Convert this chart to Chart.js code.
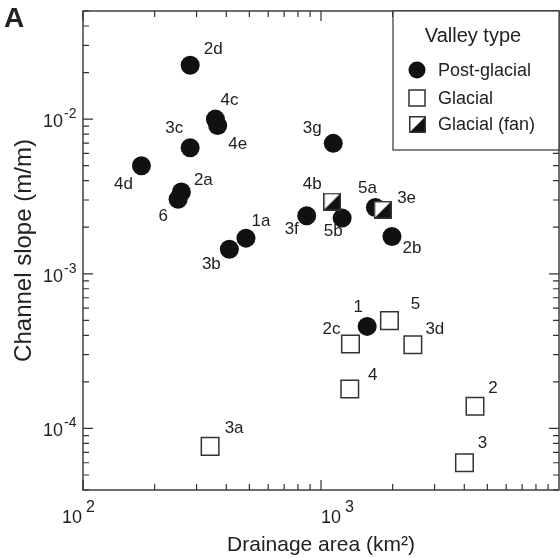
<!DOCTYPE html>
<html>
<head>
<meta charset="utf-8">
<script src="https://cdn.jsdelivr.net/npm/chart.js@4/dist/chart.umd.min.js"></script>
<style>
  html, body { margin: 0; padding: 0; background: #fff; }
</style>
</head>
<body>
<canvas id="slopeChart" width="560" height="558"></canvas>
<script>
// Post-glacial valleys (km2, m/m)
const postNames = ['2d', '4c', '4e', '3c', '4d', '2a', '6', '1a', '3b', '3g', '3f', '5b', '5a', '2b', '1'];
const postArea = [282, 360, 368, 282, 176, 259, 251, 484, 412, 1126, 871, 1227, 1693, 1987, 1563];
const postSlope = [0.0223, 0.0100, 0.0091, 0.00653, 0.0050, 0.00338, 0.00303, 0.00170, 0.00144, 0.00697, 0.00237, 0.00229, 0.00268, 0.00174, 0.000457];

// Glacial valleys
const glacNames = ['5', '2c', '3d', '4', '2', '3', '3a'];
const glacArea = [1939, 1330, 2432, 1321, 4436, 4006, 342];
const glacSlope = [0.000498, 0.000352, 0.000348, 0.000180, 0.000139, 0.0000601, 0.0000766];

// Glacial (fan)
const fanNames = ['4b', '3e'];
const fanArea = [1114, 1815];
const fanSlope = [0.00293, 0.00259];

const xTicks = [100, 1000];
const yTicks = [1e-4, 1e-3, 1e-2];

const FONT = '"Liberation Sans", Arial, Helvetica, sans-serif';
const INK = '#222';

// label placement around each marker (px from marker centre)
const labelOffset = {
  '2d': [23, -16], '4c': [14, -19], '4e': [20, 19], '3c': [-16, -19], '4d': [-18, 19],
  '2a': [22, -12], '6': [-15, 17], '1a': [15, -17], '3b': [-18, 15], '3g': [-21, -15],
  '3f': [-15, 13], '5b': [-9, 13], '5a': [-8, -19], '2b': [20, 12], '1': [-9, -19],
  '5': [26, -16], '2c': [-19, -15], '3d': [22, -15], '4': [23, -14], '2': [18, -18],
  '3': [18, -19], '3a': [24, -18], '4b': [-20, -17], '3e': [24, -12]
};

function toPoints(xs, ys) {
  return xs.map((x, i) => ({ x: x, y: ys[i] }));
}

// half filled square for the fan valleys
function fanMarker(size) {
  const c = document.createElement('canvas');
  c.width = size; c.height = size;
  const g = c.getContext('2d');
  g.fillStyle = '#fff';
  g.fillRect(0, 0, size, size);
  g.fillStyle = '#111';
  g.beginPath();
  g.moveTo(0.75, size - 0.75);
  g.lineTo(size - 0.75, 0.75);
  g.lineTo(size - 0.75, size - 0.75);
  g.closePath();
  g.fill();
  g.strokeStyle = '#333';
  g.lineWidth = 1.5;
  g.strokeRect(0.75, 0.75, size - 1.5, size - 1.5);
  return c;
}
const fanImg = fanMarker(18);

function drawPow(ctx, x, y, base, exp, size, supSize, rise) {
  ctx.textAlign = 'left';
  ctx.textBaseline = 'middle';
  ctx.font = size + 'px ' + FONT;
  ctx.fillText(base, x, y);
  const w = ctx.measureText(base).width;
  ctx.font = supSize + 'px ' + FONT;
  ctx.fillText(exp, x + w + (exp.length === 1 ? 4 : 1), y - rise);
}

const framePlugin = {
  id: 'frame',
  beforeDatasetsDraw(chart) {
    const { ctx, chartArea: a, scales } = chart;
    const xs = scales.x, ys = scales.y;
    ctx.save();
    ctx.strokeStyle = '#333';
    ctx.lineWidth = 1.4;
    ctx.strokeRect(a.left, a.top, a.right - a.left, a.bottom - a.top);
    ctx.lineWidth = 1.2;
    ctx.beginPath();
    // x ticks, bottom and top, pointing in
    for (let d = 2; d < 4; d++) {
      for (let k = 1; k < 10; k++) {
        const v = k * Math.pow(10, d);
        const px = xs.getPixelForValue(v);
        const len = k === 1 ? 10 : 6;
        ctx.moveTo(px, a.bottom); ctx.lineTo(px, a.bottom - len);
        ctx.moveTo(px, a.top); ctx.lineTo(px, a.top + len);
      }
    }
    // y ticks, left and right
    for (let d = -5; d < -1; d++) {
      for (let k = 1; k < 10; k++) {
        const v = k * Math.pow(10, d);
        if (v < ys.min * 0.999 || v > ys.max * 1.001) continue;
        const py = ys.getPixelForValue(v);
        const len = k === 1 ? 10 : 6;
        ctx.moveTo(a.left, py); ctx.lineTo(a.left + len, py);
        ctx.moveTo(a.right, py); ctx.lineTo(a.right - len, py);
      }
    }
    ctx.stroke();

    // tick labels as powers of ten
    ctx.fillStyle = INK;
    const xShift = [-21, 0];
    xTicks.forEach((v, i) => {
      const px = xs.getPixelForValue(v);
      drawPow(ctx, px + xShift[i], a.bottom + 28, '10', String(Math.round(Math.log10(v))), 18, 16, 10);
    });
    yTicks.forEach(v => {
      const py = ys.getPixelForValue(v);
      drawPow(ctx, 43, py + 3, '10', '-' + String(-Math.round(Math.log10(v))), 18, 14, 8);
    });

    // panel letter
    ctx.font = 'bold 28px ' + FONT;
    ctx.textAlign = 'left';
    ctx.textBaseline = 'middle';
    ctx.fillText('A', 4, 19);
    ctx.restore();
  },
  afterDatasetsDraw(chart) {
    const { ctx } = chart;
    ctx.save();
    ctx.fillStyle = INK;
    ctx.font = '17px ' + FONT;
    ctx.textAlign = 'center';
    ctx.textBaseline = 'middle';
    chart.data.datasets.forEach((ds, di) => {
      const meta = chart.getDatasetMeta(di);
      meta.data.forEach((el, i) => {
        const name = ds.names[i];
        const off = labelOffset[name] || [0, -16];
        ctx.fillText(name, el.x + off[0], el.y + off[1]);
      });
    });

    // legend box
    const lx = 393, ly = chart.chartArea.top, lw = chart.chartArea.right - lx, lh = 139;
    ctx.fillStyle = '#fff';
    ctx.fillRect(lx, ly, lw, lh);
    ctx.strokeStyle = '#333';
    ctx.lineWidth = 1.2;
    ctx.strokeRect(lx, ly, lw, lh);
    ctx.fillStyle = INK;
    ctx.font = '20px ' + FONT;
    ctx.fillText('Valley type', 473, ly + 25);
    ctx.font = '18px ' + FONT;
    ctx.textAlign = 'left';
    const rows = [ly + 59, ly + 87, ly + 113];
    ctx.beginPath();
    ctx.arc(417, rows[0], 8.5, 0, Math.PI * 2);
    ctx.fillStyle = '#111';
    ctx.fill();
    ctx.fillStyle = '#fff';
    ctx.fillRect(409, rows[1] - 8, 16, 16);
    ctx.lineWidth = 1.5;
    ctx.strokeRect(409, rows[1] - 8, 16, 16);
    ctx.drawImage(fanMarker(17), 409, rows[2] - 8);
    ctx.fillStyle = INK;
    ctx.fillText('Post-glacial', 438, rows[0] + 1);
    ctx.fillText('Glacial', 438, rows[1] + 1);
    ctx.fillText('Glacial (fan)', 438, rows[2] + 1);
    ctx.restore();
  }
};

new Chart(document.getElementById('slopeChart').getContext('2d'), {
  type: 'scatter',
  data: {
    datasets: [
      {
        label: 'Glacial (fan)',
        names: fanNames,
        data: toPoints(fanArea, fanSlope),
        pointStyle: fanImg
      },
      {
        label: 'Post-glacial',
        names: postNames,
        data: toPoints(postArea, postSlope),
        pointStyle: 'circle',
        pointRadius: 9.5,
        backgroundColor: '#111',
        borderColor: '#111',
        borderWidth: 0
      },
      {
        label: 'Glacial',
        names: glacNames,
        data: toPoints(glacArea, glacSlope),
        pointStyle: 'rect',
        pointRadius: 12.4,
        backgroundColor: '#fff',
        borderColor: '#333',
        borderWidth: 1.5
      }
    ]
  },
  options: {
    responsive: false,
    animation: false,
    layout: { autoPadding: false, padding: { top: 11, right: 1, left: 0, bottom: 0 } },
    plugins: { legend: { display: false }, tooltip: { enabled: false } },
    scales: {
      x: {
        type: 'logarithmic',
        min: 100,
        max: 10000,
        grid: { display: false },
        border: { display: false },
        ticks: { display: false },
        title: {
          display: true,
          text: 'Drainage area (km²)',
          color: INK,
          font: { family: FONT, size: 21 },
          padding: { top: 0, bottom: 0 }
        },
        afterFit(s) { s.height = 68; }
      },
      y: {
        type: 'logarithmic',
        min: 0.00004,
        max: 0.05,
        grid: { display: false },
        border: { display: false },
        ticks: { display: false },
        title: {
          display: true,
          text: 'Channel slope (m/m)',
          color: INK,
          font: { family: FONT, size: 24 },
          padding: { top: 10, bottom: 0 }
        },
        afterFit(s) { s.width = 83; }
      }
    }
  },
  plugins: [framePlugin]
});
</script>
</body>
</html>
